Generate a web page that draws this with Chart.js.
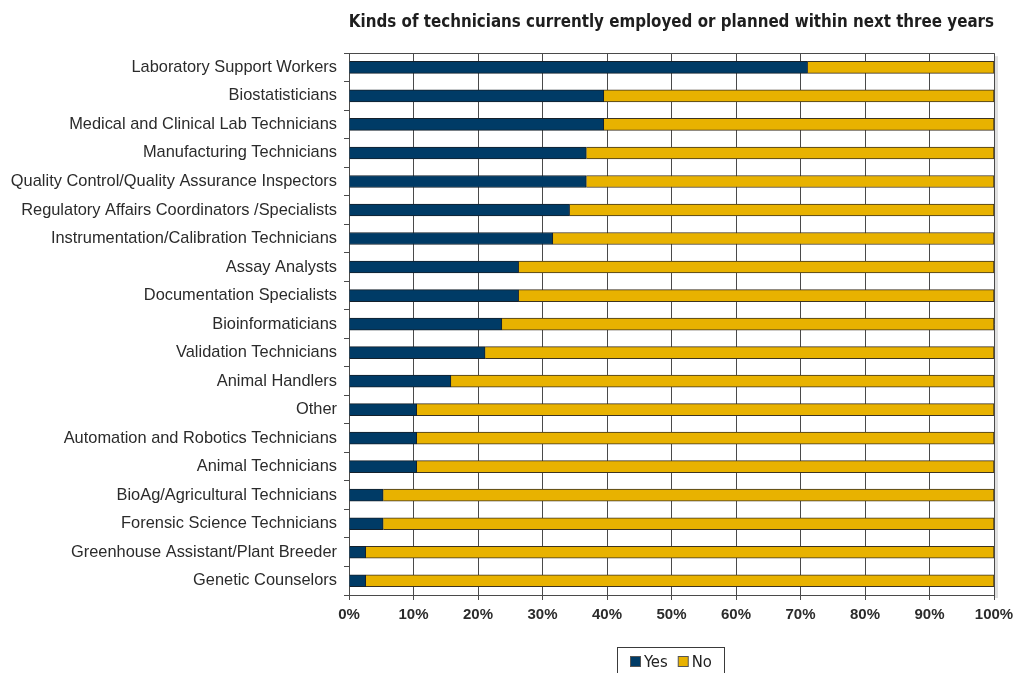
<!DOCTYPE html>
<html>
<head>
<meta charset="utf-8">
<script src="https://cdn.jsdelivr.net/npm/chart.js@4/dist/chart.umd.min.js"></script>
<style>
  html, body { margin: 0; padding: 0; background: #ffffff; }
  #wrap { width: 1016px; height: 673px; }
</style>
</head>
<body>
<div id="wrap"><canvas id="c" width="1016" height="673"></canvas></div>
<script>
// Technician categories, top to bottom
const categories = [
  'Laboratory Support Workers',
  'Biostatisticians',
  'Medical and Clinical Lab Technicians',
  'Manufacturing Technicians',
  'Quality Control/Quality Assurance Inspectors',
  'Regulatory Affairs Coordinators /Specialists',
  'Instrumentation/Calibration Technicians',
  'Assay Analysts',
  'Documentation Specialists',
  'Bioinformaticians',
  'Validation Technicians',
  'Animal Handlers',
  'Other',
  'Automation and Robotics Technicians',
  'Animal Technicians',
  'BioAg/Agricultural Technicians',
  'Forensic Science Technicians',
  'Greenhouse Assistant/Plant Breeder',
  'Genetic Counselors'
];

// Share of respondents (%)
const yesValues = [71.1, 39.5, 39.5, 36.8, 36.8, 34.2, 31.6, 26.3, 26.3, 23.7, 21.1, 15.8, 10.5, 10.5, 10.5, 5.3, 5.3, 2.6, 2.6];
const noValues  = [28.9, 60.5, 60.5, 63.2, 63.2, 65.8, 68.4, 73.7, 73.7, 76.3, 78.9, 84.2, 89.5, 89.5, 89.5, 94.7, 94.7, 97.4, 97.4];

const seriesNames = ['Yes', 'No'];
const titleText = 'Kinds of technicians currently employed or planned within next three years';

const NAVY = '#003b66';
const GOLD = '#e8b200';
const LINE = '#4a4a4a';

// Top border of the plot frame plus a boxed legend under the axis
const framePlugin = {
  id: 'frameAndLegend',
  beforeDatasetsDraw(chart) {
    const { ctx, chartArea: a } = chart;
    ctx.save();
    // soft shadow along the right side of the plot
    ctx.fillStyle = 'rgba(0,0,0,0.12)';
    ctx.fillRect(a.right + 1, a.top + 3, 3, a.bottom - a.top);
    ctx.restore();
  },
  afterDraw(chart) {
    const { ctx, chartArea: a } = chart;
    ctx.save();
    ctx.strokeStyle = LINE;
    ctx.lineWidth = 1;
    ctx.beginPath();
    ctx.moveTo(a.left, Math.round(a.top) + 0.5);
    ctx.lineTo(a.right, Math.round(a.top) + 0.5);
    ctx.stroke();

    // legend box
    const bx = 617.5, by = 647.5, bw = 107, bh = 40;
    ctx.fillStyle = '#ffffff';
    ctx.fillRect(bx, by, bw, bh);
    ctx.strokeStyle = '#3a3a3a';
    ctx.strokeRect(bx, by, bw, bh);
    ctx.font = '16.5px "DejaVu Sans Condensed", "DejaVu Sans", sans-serif';
    ctx.textBaseline = 'middle';
    let x = 630;
    const cy = 662;
    chart.data.datasets.forEach(ds => {
      ctx.fillStyle = ds.backgroundColor;
      ctx.fillRect(x + 0.5, cy - 5.5, 10, 10);
      ctx.strokeStyle = '#555';
      ctx.strokeRect(x + 0.5, cy - 5.5, 10, 10);
      ctx.fillStyle = '#222';
      ctx.textAlign = 'left';
      ctx.fillText(ds.label, x + 14, cy + 1);
      x += 14 + ctx.measureText(ds.label).width + 10;
    });
    ctx.restore();
  }
};

new Chart(document.getElementById('c'), {
  type: 'bar',
  data: {
    labels: categories,
    datasets: [
      { label: seriesNames[0], data: yesValues, backgroundColor: NAVY, borderColor: '#14202b', borderWidth: 1, barThickness: 12 },
      { label: seriesNames[1], data: noValues,  backgroundColor: GOLD, borderColor: '#3d3320', borderWidth: 1, barThickness: 12 }
    ]
  },
  options: {
    indexAxis: 'y',
    responsive: false,
    animation: false,
    layout: { padding: { left: 0, right: 22, top: 0, bottom: 48 } },
    plugins: {
      legend: { display: false },
      tooltip: { enabled: false },
      title: {
        display: true,
        text: titleText,
        align: 'end',
        color: '#1e1e1e',
        font: { family: '"DejaVu Sans Condensed", "DejaVu Sans", sans-serif', size: 16.8, weight: 'bold', lineHeight: 1.2 },
        padding: { top: 13, bottom: 20 }
      }
    },
    scales: {
      x: {
        stacked: true,
        min: 0,
        max: 100,
        ticks: {
          stepSize: 10,
          callback: v => v + '%',
          color: '#2b2b2b',
          font: { family: '"Liberation Sans", Arial, sans-serif', size: 15, weight: 'bold' },
          padding: 6,
          maxRotation: 0
        },
        grid: { color: LINE, lineWidth: 1, tickLength: 5, drawTicks: true },
        border: { color: LINE, width: 1 },
        afterFit: s => { s.height = 30; s.paddingLeft = 0; s.paddingRight = 0; }
      },
      y: {
        stacked: true,
        offset: true,
        ticks: {
          color: '#2b2b2b',
          font: { family: '"Liberation Sans", Arial, sans-serif', size: 16.4 },
          padding: 7,
          autoSkip: false
        },
        grid: { offset: true, drawOnChartArea: false, drawTicks: true, tickLength: 5, color: LINE },
        border: { color: LINE, width: 1 },
        afterFit: s => { s.width = 349; s.paddingTop = 0; s.paddingBottom = 0; }
      }
    }
  },
  plugins: [framePlugin]
});
</script>
</body>
</html>
